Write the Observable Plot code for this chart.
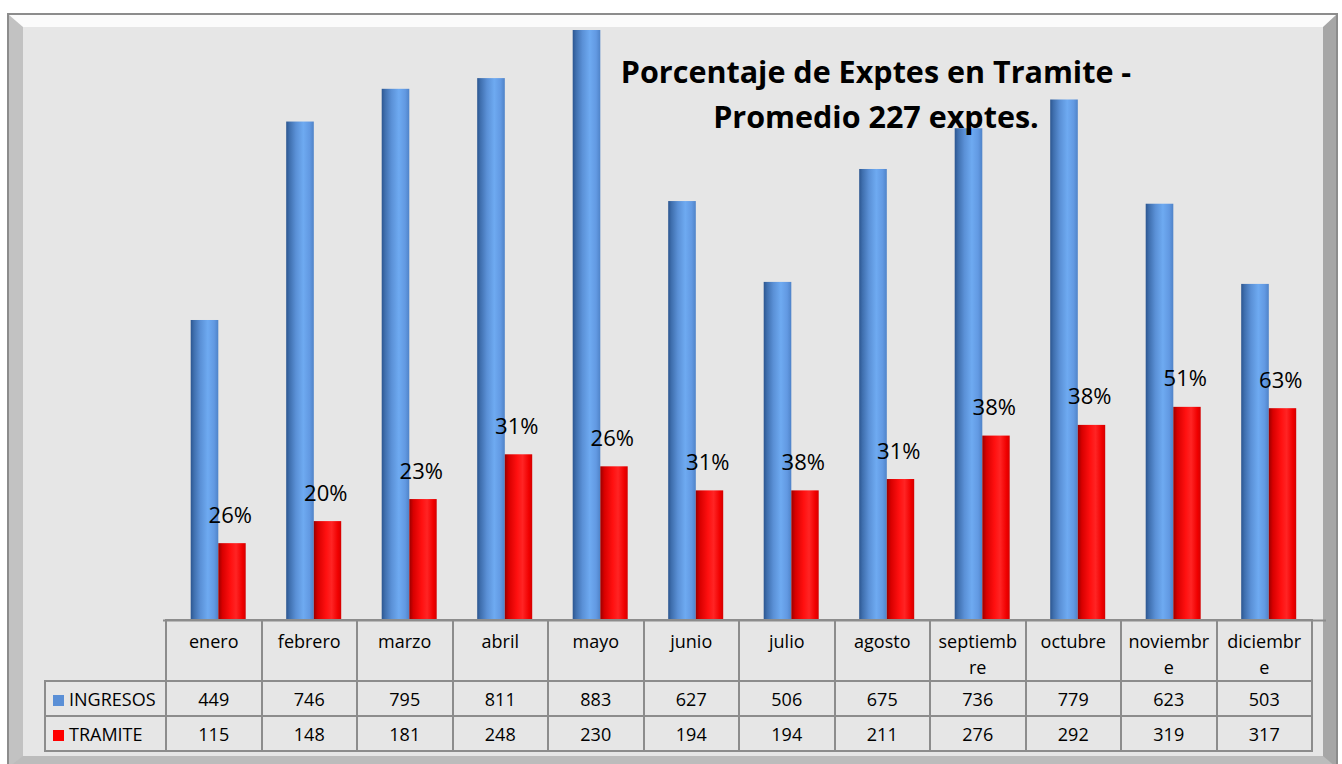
<!DOCTYPE html>
<html>
<head>
<meta charset="utf-8">
<script src="https://cdn.jsdelivr.net/npm/d3@7"></script>
<script src="https://cdn.jsdelivr.net/npm/@observablehq/plot@0.6"></script>
<style>
  body { margin: 0; background: #ffffff; font-family: "Open Sans", sans-serif; }
  #wrap { position: relative; width: 1342px; height: 764px; overflow: hidden; }
  #frame {
    position: absolute; left: 9px; top: 15px; width: 1327px; height: 752px;
    box-sizing: border-box; background: #e6e6e6;
    border-style: solid; border-width: 12px 13px 11px 14px;
    border-color: #fbfbfb #a6a6a6 #bcbcbc #c2c2c2;
    box-shadow: 0 0 0 2px #8c8c8c;
  }
  #chart { position: absolute; left: 0; top: 0; }
  #title {
    position: absolute; left: 476px; top: 49px; width: 800px; text-align: center;
    font-family: "Open Sans", sans-serif; font-weight: 700; font-size: 30.5px; line-height: 45px;
    color: #000; z-index: 3;
  }
  #tbl {
    position: absolute; left: 44px; top: 619px; border-collapse: collapse; table-layout: fixed;
    font-family: "Open Sans", sans-serif; font-size: 18px; color: #000;
  }
  #tbl td { border: 2px solid #8c8c8c; text-align: center; padding: 0; white-space: pre-line; box-sizing: border-box; }
  #tbl tr.head td { height: 58px; vertical-align: top; padding-top: 7px; line-height: 26px; }
  #tbl tr.head td.empty { border-top: none; border-left: none; }
  #tbl tr.val td { height: 35px; line-height: 30px; }
  #tbl td.lab { text-align: left; padding-left: 7px; }
  .sw { display: inline-block; width: 11px; height: 11px; margin-right: 5px; vertical-align: 0px; }
</style>
</head>
<body>
<div id="wrap">
  <div id="frame"></div>
  <div id="title">Porcentaje de Exptes en Tramite -<br>Promedio 227 exptes.</div>
</div>
<script>
// ---- data ----
const months = ["enero","febrero","marzo","abril","mayo","junio","julio","agosto","septiembre","octubre","noviembre","diciembre"];
const monthLabels = ["enero","febrero","marzo","abril","mayo","junio","julio","agosto","septiemb\nre","octubre","noviembr\ne","diciembr\ne"];
const ingresos = [449, 746, 795, 811, 883, 627, 506, 675, 736, 779, 623, 503];
const tramite  = [115, 148, 181, 248, 230, 194, 194, 211, 276, 292, 319, 317];
const porcentajes = ["26%","20%","23%","31%","26%","31%","38%","31%","38%","38%","51%","63%"];
const seriesNames = ["INGRESOS", "TRAMITE"];
const seriesColors = ["#5a8fd6", "#ff0000"];

const rows = months.map((m, i) => ({mes: m, ingresos: ingresos[i], tramite: tramite[i], pct: porcentajes[i]}));

const svg = Plot.plot({
  width: 1342,
  height: 621,
  marginTop: 30,
  marginBottom: 1,
  marginLeft: 165,
  marginRight: 31,
  x: {type: "band", domain: months, padding: 0, round: false, axis: null},
  y: {domain: [0, d3.max(ingresos)], axis: null},
  style: {background: "transparent", overflow: "visible"},
  marks: [
    Plot.barY(rows, {x: "mes", y: "ingresos", fill: "url(#gBlue)", insetLeft: 25.7, insetRight: 42.2}),
    Plot.barY(rows, {x: "mes", y: "tramite", fill: "url(#gRed)", insetLeft: 53.3, insetRight: 14.8}),
    Plot.text(rows, {x: "mes", y: "tramite", text: "pct", dx: 17, dy: -28, fontSize: 22, fill: "#000", fontFamily: "Open Sans"}),
    Plot.ruleY([0], {stroke: "#8c8c8c", strokeWidth: 2, insetLeft: -2, insetRight: -15})
  ]
});
svg.id = "chart";

const defs = d3.select(svg).insert("defs", ":first-child");
function grad(id, stops) {
  const g = defs.append("linearGradient").attr("id", id).attr("x1", 0).attr("x2", 1).attr("y1", 0).attr("y2", 0);
  stops.forEach(([o, c]) => g.append("stop").attr("offset", o).attr("stop-color", c));
}
grad("gBlue", [[0, "#2c5690"], [0.12, "#3f6fae"], [0.35, "#5a90d6"], [0.62, "#6eaaf1"], [0.85, "#6299e2"], [1, "#4f83c8"]]);
grad("gRed", [[0, "#9a0000"], [0.15, "#d80000"], [0.45, "#ff1010"], [0.65, "#ff2424"], [0.88, "#f00000"], [1, "#d40000"]]);

const wrap = document.getElementById("wrap");
wrap.insertBefore(svg, document.getElementById("title"));

// ---- data table below the chart ----
const xs = svg.scale("x");
const bw = xs.bandwidth;
const tbl = document.createElement("table");
tbl.id = "tbl";
tbl.style.width = (121 + months.length * bw) + "px";
const cg = document.createElement("colgroup");
const c0 = document.createElement("col"); c0.style.width = "121px"; cg.appendChild(c0);
months.forEach(() => { const c = document.createElement("col"); c.style.width = bw + "px"; cg.appendChild(c); });
tbl.appendChild(cg);

const head = document.createElement("tr"); head.className = "head";
const e = document.createElement("td"); e.className = "empty"; head.appendChild(e);
monthLabels.forEach(l => { const td = document.createElement("td"); td.textContent = l; head.appendChild(td); });
tbl.appendChild(head);

[ingresos, tramite].forEach((vals, s) => {
  const tr = document.createElement("tr"); tr.className = "val";
  const lab = document.createElement("td"); lab.className = "lab";
  const sw = document.createElement("span"); sw.className = "sw"; sw.style.background = seriesColors[s];
  lab.appendChild(sw); lab.appendChild(document.createTextNode(seriesNames[s]));
  tr.appendChild(lab);
  vals.forEach(v => { const td = document.createElement("td"); td.textContent = v; tr.appendChild(td); });
  tbl.appendChild(tr);
});
wrap.appendChild(tbl);
</script>
</body>
</html>
